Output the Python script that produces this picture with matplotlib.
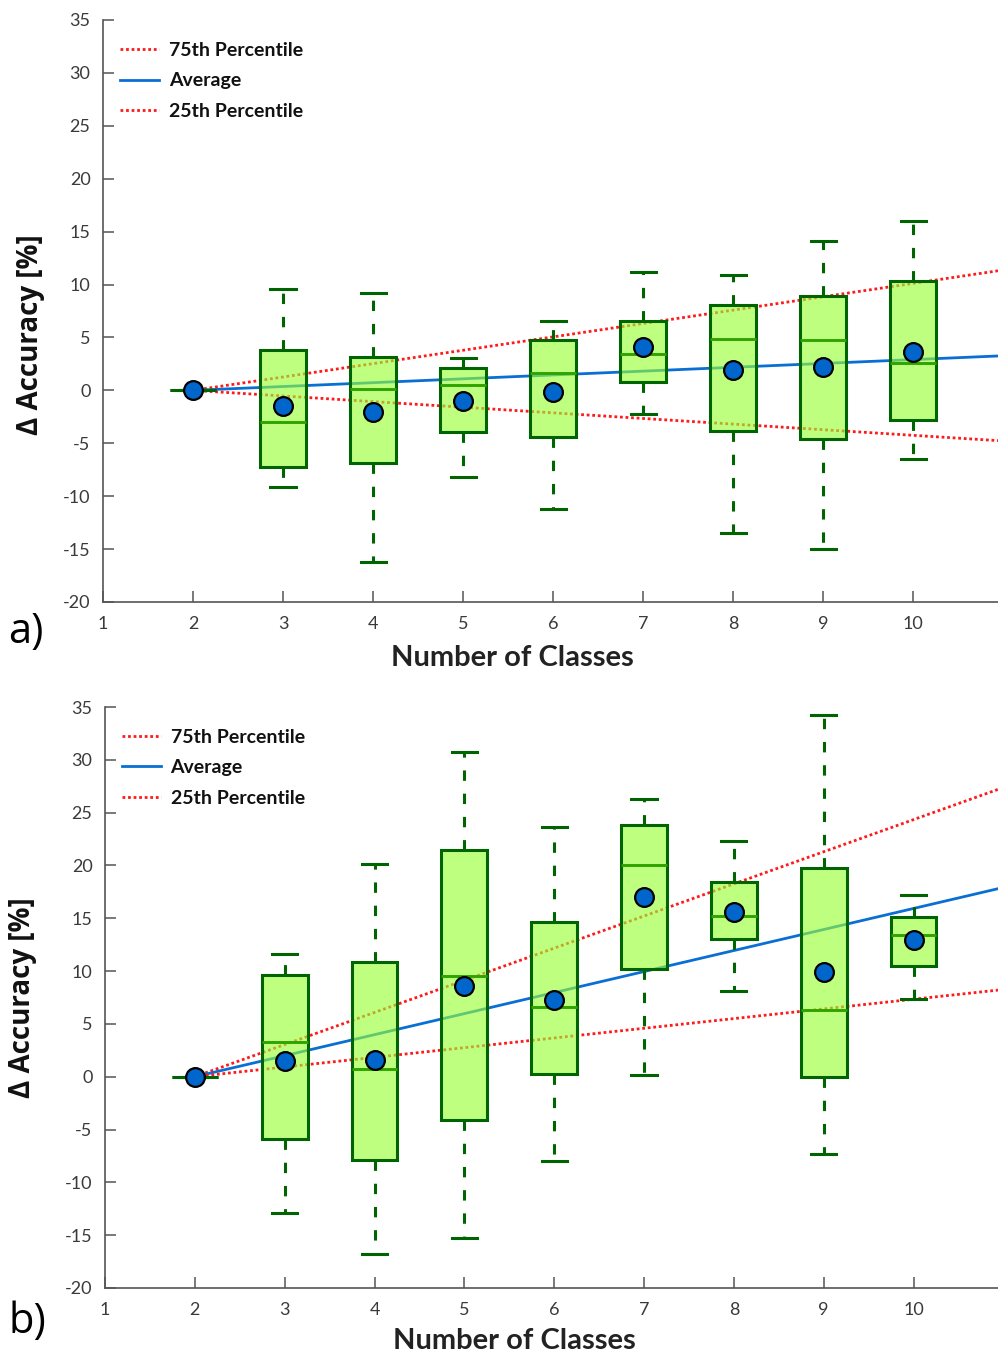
import matplotlib
matplotlib.use("Agg")
import matplotlib.pyplot as plt
from matplotlib.lines import Line2D

plt.rcParams['font.family'] = ['Lato', 'DejaVu Sans']

# Number of classes for each box
classes = [2, 3, 4, 5, 6, 7, 8, 9, 10]

# Panel a) statistics (Δ accuracy, %)
a_whislo = [0, -9.1, -16.2, -8.2, -11.2, -2.2, -13.5, -15.0, -6.5]
a_q1 = [0, -7.2, -6.9, -3.9, -4.4, 0.8, -3.8, -4.6, -2.8]
a_med = [0, -3.0, 0.1, 0.5, 1.6, 3.4, 4.9, 4.8, 2.6]
a_q3 = [0, 3.8, 3.2, 2.1, 4.8, 6.6, 8.1, 8.9, 10.3]
a_whishi = [0, 9.6, 9.2, 3.1, 6.6, 11.2, 10.9, 14.1, 16.0]
a_mean = [0, -1.5, -2.0, -1.0, -0.2, 4.1, 1.9, 2.2, 3.6]

# Panel b) statistics (Δ accuracy, %)
b_whislo = [0, -12.9, -16.8, -15.3, -8.0, 0.2, 8.1, -7.3, 7.4]
b_q1 = [0, -5.9, -7.9, -4.1, 0.3, 10.2, 13.0, 0.0, 10.5]
b_med = [0, 3.3, 0.7, 9.5, 6.6, 20.0, 15.2, 6.3, 13.4]
b_q3 = [0, 9.6, 10.9, 21.5, 14.6, 23.8, 18.4, 19.8, 15.1]
b_whishi = [0, 11.6, 20.1, 30.7, 23.6, 26.3, 22.3, 34.2, 17.2]
b_mean = [0, 1.5, 1.6, 8.6, 7.3, 17.0, 15.6, 9.9, 12.9]

# Trend lines (start and end points)
trend_x = [2, 10.94]
a_p75 = [0, 11.3]
a_avg = [0, 3.25]
a_p25 = [0, -4.75]
b_p75 = [0, 27.2]
b_avg = [0, 17.8]
b_p25 = [0, 8.2]

legend_labels = ["75th Percentile", "Average", "25th Percentile"]
yticks = [-20, -15, -10, -5, 0, 5, 10, 15, 20, 25, 30, 35]
xticks = [1, 2, 3, 4, 5, 6, 7, 8, 9, 10]

DARK_GREEN = '#006400'
MED_GREEN = '#2fa400'
BOX_FACE = (0.6, 1.0, 0.2, 0.62)
RED = '#ff1a1a'
BLUE = '#0a6fd4'
MEAN_BLUE = '#0066cc'
AXIS_GREY = '#555555'
TEXT_GREY = '#3a3a3a'

W, H = 998, 1354
fig = plt.figure(figsize=(W / 100, H / 100), dpi=100)


def px_axes(left, top, right, bottom):
    return fig.add_axes([left / W, 1 - bottom / H, (right - left) / W, (bottom - top) / H])


def draw_panel(ax, whislo, q1, med, q3, whishi, mean, p75, avg, p25,
               ylab_xy, xlab_xy, legend_xy):
    # trend lines underneath the boxes
    ax.plot(trend_x, p75, color=RED, lw=2.0, ls=(0, (1, 1)), zorder=1)
    ax.plot(trend_x, avg, color=BLUE, lw=2.0, ls='-', zorder=1)
    ax.plot(trend_x, p25, color=RED, lw=2.0, ls=(0, (1, 1)), zorder=1)

    stats = []
    for i in range(len(classes)):
        stats.append(dict(whislo=whislo[i], q1=q1[i], med=med[i], q3=q3[i],
                          whishi=whishi[i], mean=mean[i], fliers=[]))
    parts = ax.bxp(stats, positions=classes, widths=0.51, capwidths=0.28,
                   patch_artist=True, showmeans=True, showfliers=False,
                   boxprops=dict(facecolor=BOX_FACE, edgecolor=DARK_GREEN, linewidth=2.2),
                   whiskerprops=dict(color=DARK_GREEN, linewidth=2.2,
                                     linestyle=(0, (3.4, 4.2))),
                   capprops=dict(color=DARK_GREEN, linewidth=2.2),
                   medianprops=dict(color=MED_GREEN, linewidth=2.1),
                   meanprops=dict(marker='o', markerfacecolor=MEAN_BLUE,
                                  markeredgecolor='black', markersize=13.5,
                                  markeredgewidth=1.6),
                   manage_ticks=False, zorder=3)
    # a collapsed box (all quartiles equal) shows only its dark outline
    for i, m in enumerate(parts['medians']):
        if q1[i] == q3[i]:
            m.set_color(DARK_GREEN)
    for m in parts['means']:
        m.set_zorder(5)

    ax.set_xlim(1, 10.94)
    ax.set_ylim(-20, 35)
    ax.set_xticks(xticks)
    ax.set_yticks(yticks)
    ax.set_xticklabels([str(v) for v in xticks])
    ax.set_yticklabels([str(v) for v in yticks])
    for s in ['top', 'right']:
        ax.spines[s].set_visible(False)
    for s in ['left', 'bottom']:
        ax.spines[s].set_color(AXIS_GREY)
        ax.spines[s].set_linewidth(1.2)
    ax.tick_params(direction='in', length=8, width=1.1, color=AXIS_GREY,
                   labelcolor=TEXT_GREY, labelsize=13)
    ax.tick_params(axis='y', pad=9)
    ax.tick_params(axis='x', pad=10)

    ax.set_ylabel("Δ Accuracy [%]", fontsize=20, fontweight='bold',
                  family=['Open Sans', 'DejaVu Sans'], color='#111111')
    ax.yaxis.set_label_coords(*ylab_xy)
    ax.set_xlabel("Number of Classes", fontsize=21, fontweight='bold',
                  color='#222222')
    ax.xaxis.set_label_coords(*xlab_xy)

    handles = [Line2D([], [], color=RED, lw=2.0, ls=(0, (1, 1))),
               Line2D([], [], color=BLUE, lw=2.0),
               Line2D([], [], color=RED, lw=2.0, ls=(0, (1, 1)))]
    leg = ax.legend(handles, legend_labels, loc='upper left',
                    bbox_to_anchor=legend_xy, frameon=False, borderpad=0,
                    borderaxespad=0, handlelength=2.0, handletextpad=0.5,
                    labelspacing=0.68, prop=dict(family='Lato', weight='bold', size=14))
    for t in leg.get_texts():
        t.set_color('#111111')


ax_a = px_axes(103, 20, 998, 602)
draw_panel(ax_a, a_whislo, a_q1, a_med, a_q3, a_whishi, a_mean,
           a_p75, a_avg, a_p25,
           ylab_xy=(-0.065, 0.46), xlab_xy=(0.457, -0.074),
           legend_xy=(0.019, 0.962))

ax_b = px_axes(105, 707, 998, 1288)
draw_panel(ax_b, b_whislo, b_q1, b_med, b_q3, b_whishi, b_mean,
           b_p75, b_avg, b_p25,
           ylab_xy=(-0.076, 0.5), xlab_xy=(0.458, -0.068),
           legend_xy=(0.019, 0.962))

fig.text(8 / W, 1 - 632 / H, "a)", fontsize=30, va='center', ha='left',
         family=['Open Sans', 'DejaVu Sans'])
fig.text(8 / W, 1 - 1322 / H, "b)", fontsize=30, va='center', ha='left',
         family=['Open Sans', 'DejaVu Sans'])

fig.savefig("out.png", dpi=100)
